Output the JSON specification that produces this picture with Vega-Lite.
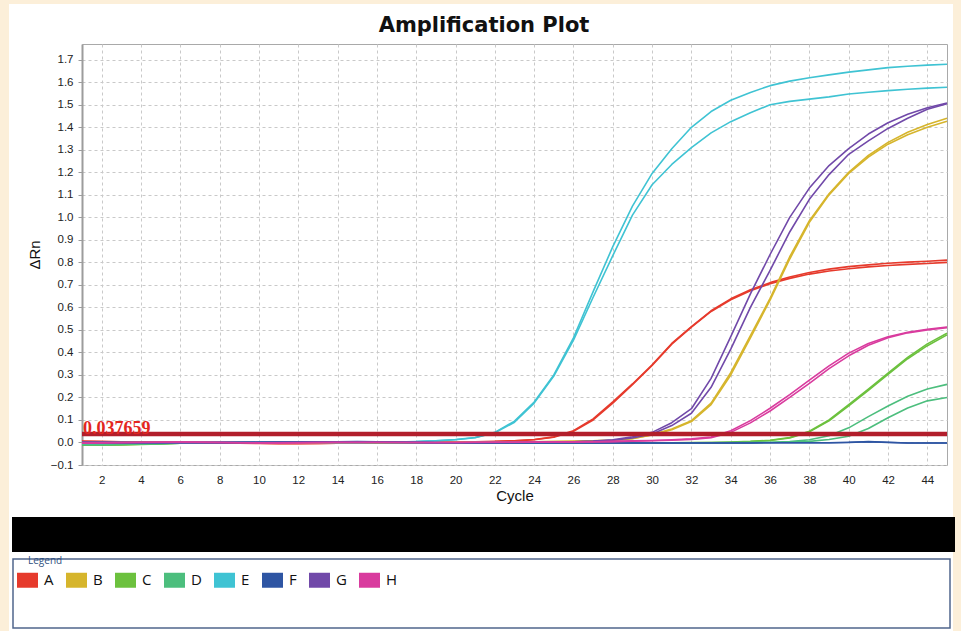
{
"$schema": "https://vega.github.io/schema/vega-lite/v6.json",
"width": 865, "height": 421,
"autosize": {"type": "none"},
"padding": {"left": 82, "top": 44, "right": 14, "bottom": 166},
"background": "#ffffff",
"datasets": {
"thr": [{"cycle": 1, "rn": 0.037659, "label": "0.037659"}],
"curves": [
{"sample":"A","rep":1,"cycle":1,"rn":0.004},{"sample":"A","rep":1,"cycle":2,"rn":0.003},{"sample":"A","rep":1,"cycle":3,"rn":0.002},{"sample":"A","rep":1,"cycle":4,"rn":0.001},{"sample":"A","rep":1,"cycle":5,"rn":0},{"sample":"A","rep":1,"cycle":6,"rn":0},{"sample":"A","rep":1,"cycle":7,"rn":-0.001},{"sample":"A","rep":1,"cycle":8,"rn":-0.002},{"sample":"A","rep":1,"cycle":9,"rn":-0.003},{"sample":"A","rep":1,"cycle":10,"rn":-0.004},{"sample":"A","rep":1,"cycle":11,"rn":-0.005},{"sample":"A","rep":1,"cycle":12,"rn":-0.005},{"sample":"A","rep":1,"cycle":13,"rn":-0.004},{"sample":"A","rep":1,"cycle":14,"rn":-0.003},{"sample":"A","rep":1,"cycle":15,"rn":-0.002},{"sample":"A","rep":1,"cycle":16,"rn":-0.002},{"sample":"A","rep":1,"cycle":17,"rn":-0.001},{"sample":"A","rep":1,"cycle":18,"rn":0},{"sample":"A","rep":1,"cycle":19,"rn":0.001},{"sample":"A","rep":1,"cycle":20,"rn":0.002},{"sample":"A","rep":1,"cycle":21,"rn":0.003},{"sample":"A","rep":1,"cycle":22,"rn":0.005},{"sample":"A","rep":1,"cycle":23,"rn":0.008},{"sample":"A","rep":1,"cycle":24,"rn":0.013},{"sample":"A","rep":1,"cycle":25,"rn":0.025},{"sample":"A","rep":1,"cycle":26,"rn":0.052},{"sample":"A","rep":1,"cycle":27,"rn":0.105},{"sample":"A","rep":1,"cycle":28,"rn":0.18},{"sample":"A","rep":1,"cycle":29,"rn":0.26},{"sample":"A","rep":1,"cycle":30,"rn":0.345},{"sample":"A","rep":1,"cycle":31,"rn":0.44},{"sample":"A","rep":1,"cycle":32,"rn":0.515},{"sample":"A","rep":1,"cycle":33,"rn":0.585},{"sample":"A","rep":1,"cycle":34,"rn":0.638},{"sample":"A","rep":1,"cycle":35,"rn":0.678},{"sample":"A","rep":1,"cycle":36,"rn":0.71},{"sample":"A","rep":1,"cycle":37,"rn":0.735},{"sample":"A","rep":1,"cycle":38,"rn":0.755},{"sample":"A","rep":1,"cycle":39,"rn":0.77},{"sample":"A","rep":1,"cycle":40,"rn":0.781},{"sample":"A","rep":1,"cycle":41,"rn":0.789},{"sample":"A","rep":1,"cycle":42,"rn":0.796},{"sample":"A","rep":1,"cycle":43,"rn":0.801},{"sample":"A","rep":1,"cycle":44,"rn":0.805},{"sample":"A","rep":1,"cycle":45,"rn":0.81},
{"sample":"A","rep":2,"cycle":1,"rn":0.006},{"sample":"A","rep":2,"cycle":2,"rn":0.005},{"sample":"A","rep":2,"cycle":3,"rn":0.003},{"sample":"A","rep":2,"cycle":4,"rn":0.002},{"sample":"A","rep":2,"cycle":5,"rn":0.001},{"sample":"A","rep":2,"cycle":6,"rn":0},{"sample":"A","rep":2,"cycle":7,"rn":-0.001},{"sample":"A","rep":2,"cycle":8,"rn":-0.002},{"sample":"A","rep":2,"cycle":9,"rn":-0.003},{"sample":"A","rep":2,"cycle":10,"rn":-0.003},{"sample":"A","rep":2,"cycle":11,"rn":-0.004},{"sample":"A","rep":2,"cycle":12,"rn":-0.004},{"sample":"A","rep":2,"cycle":13,"rn":-0.004},{"sample":"A","rep":2,"cycle":14,"rn":-0.003},{"sample":"A","rep":2,"cycle":15,"rn":-0.002},{"sample":"A","rep":2,"cycle":16,"rn":-0.001},{"sample":"A","rep":2,"cycle":17,"rn":0},{"sample":"A","rep":2,"cycle":18,"rn":0},{"sample":"A","rep":2,"cycle":19,"rn":0.001},{"sample":"A","rep":2,"cycle":20,"rn":0.002},{"sample":"A","rep":2,"cycle":21,"rn":0.003},{"sample":"A","rep":2,"cycle":22,"rn":0.004},{"sample":"A","rep":2,"cycle":23,"rn":0.007},{"sample":"A","rep":2,"cycle":24,"rn":0.012},{"sample":"A","rep":2,"cycle":25,"rn":0.023},{"sample":"A","rep":2,"cycle":26,"rn":0.05},{"sample":"A","rep":2,"cycle":27,"rn":0.1},{"sample":"A","rep":2,"cycle":28,"rn":0.175},{"sample":"A","rep":2,"cycle":29,"rn":0.257},{"sample":"A","rep":2,"cycle":30,"rn":0.342},{"sample":"A","rep":2,"cycle":31,"rn":0.437},{"sample":"A","rep":2,"cycle":32,"rn":0.512},{"sample":"A","rep":2,"cycle":33,"rn":0.582},{"sample":"A","rep":2,"cycle":34,"rn":0.634},{"sample":"A","rep":2,"cycle":35,"rn":0.674},{"sample":"A","rep":2,"cycle":36,"rn":0.705},{"sample":"A","rep":2,"cycle":37,"rn":0.729},{"sample":"A","rep":2,"cycle":38,"rn":0.748},{"sample":"A","rep":2,"cycle":39,"rn":0.762},{"sample":"A","rep":2,"cycle":40,"rn":0.772},{"sample":"A","rep":2,"cycle":41,"rn":0.78},{"sample":"A","rep":2,"cycle":42,"rn":0.786},{"sample":"A","rep":2,"cycle":43,"rn":0.791},{"sample":"A","rep":2,"cycle":44,"rn":0.795},{"sample":"A","rep":2,"cycle":45,"rn":0.8},
{"sample":"B","rep":1,"cycle":1,"rn":0},{"sample":"B","rep":1,"cycle":2,"rn":0.001},{"sample":"B","rep":1,"cycle":3,"rn":0.001},{"sample":"B","rep":1,"cycle":4,"rn":0.002},{"sample":"B","rep":1,"cycle":5,"rn":0.002},{"sample":"B","rep":1,"cycle":6,"rn":0.002},{"sample":"B","rep":1,"cycle":7,"rn":0.001},{"sample":"B","rep":1,"cycle":8,"rn":0.001},{"sample":"B","rep":1,"cycle":9,"rn":0},{"sample":"B","rep":1,"cycle":10,"rn":0},{"sample":"B","rep":1,"cycle":11,"rn":-0.001},{"sample":"B","rep":1,"cycle":12,"rn":-0.001},{"sample":"B","rep":1,"cycle":13,"rn":-0.001},{"sample":"B","rep":1,"cycle":14,"rn":0},{"sample":"B","rep":1,"cycle":15,"rn":0},{"sample":"B","rep":1,"cycle":16,"rn":0},{"sample":"B","rep":1,"cycle":17,"rn":0.001},{"sample":"B","rep":1,"cycle":18,"rn":0.001},{"sample":"B","rep":1,"cycle":19,"rn":0.001},{"sample":"B","rep":1,"cycle":20,"rn":0.002},{"sample":"B","rep":1,"cycle":21,"rn":0.002},{"sample":"B","rep":1,"cycle":22,"rn":0.002},{"sample":"B","rep":1,"cycle":23,"rn":0.003},{"sample":"B","rep":1,"cycle":24,"rn":0.003},{"sample":"B","rep":1,"cycle":25,"rn":0.004},{"sample":"B","rep":1,"cycle":26,"rn":0.005},{"sample":"B","rep":1,"cycle":27,"rn":0.007},{"sample":"B","rep":1,"cycle":28,"rn":0.01},{"sample":"B","rep":1,"cycle":29,"rn":0.018},{"sample":"B","rep":1,"cycle":30,"rn":0.035},{"sample":"B","rep":1,"cycle":31,"rn":0.06},{"sample":"B","rep":1,"cycle":32,"rn":0.097},{"sample":"B","rep":1,"cycle":33,"rn":0.175},{"sample":"B","rep":1,"cycle":34,"rn":0.31},{"sample":"B","rep":1,"cycle":35,"rn":0.475},{"sample":"B","rep":1,"cycle":36,"rn":0.64},{"sample":"B","rep":1,"cycle":37,"rn":0.825},{"sample":"B","rep":1,"cycle":38,"rn":0.985},{"sample":"B","rep":1,"cycle":39,"rn":1.105},{"sample":"B","rep":1,"cycle":40,"rn":1.2},{"sample":"B","rep":1,"cycle":41,"rn":1.275},{"sample":"B","rep":1,"cycle":42,"rn":1.333},{"sample":"B","rep":1,"cycle":43,"rn":1.378},{"sample":"B","rep":1,"cycle":44,"rn":1.412},{"sample":"B","rep":1,"cycle":45,"rn":1.44},
{"sample":"B","rep":2,"cycle":1,"rn":0.001},{"sample":"B","rep":2,"cycle":2,"rn":0.001},{"sample":"B","rep":2,"cycle":3,"rn":0.002},{"sample":"B","rep":2,"cycle":4,"rn":0.002},{"sample":"B","rep":2,"cycle":5,"rn":0.003},{"sample":"B","rep":2,"cycle":6,"rn":0.002},{"sample":"B","rep":2,"cycle":7,"rn":0.002},{"sample":"B","rep":2,"cycle":8,"rn":0.001},{"sample":"B","rep":2,"cycle":9,"rn":0},{"sample":"B","rep":2,"cycle":10,"rn":-0.001},{"sample":"B","rep":2,"cycle":11,"rn":-0.001},{"sample":"B","rep":2,"cycle":12,"rn":-0.002},{"sample":"B","rep":2,"cycle":13,"rn":-0.001},{"sample":"B","rep":2,"cycle":14,"rn":-0.001},{"sample":"B","rep":2,"cycle":15,"rn":0},{"sample":"B","rep":2,"cycle":16,"rn":0},{"sample":"B","rep":2,"cycle":17,"rn":0},{"sample":"B","rep":2,"cycle":18,"rn":0.001},{"sample":"B","rep":2,"cycle":19,"rn":0.001},{"sample":"B","rep":2,"cycle":20,"rn":0.001},{"sample":"B","rep":2,"cycle":21,"rn":0.002},{"sample":"B","rep":2,"cycle":22,"rn":0.002},{"sample":"B","rep":2,"cycle":23,"rn":0.002},{"sample":"B","rep":2,"cycle":24,"rn":0.003},{"sample":"B","rep":2,"cycle":25,"rn":0.004},{"sample":"B","rep":2,"cycle":26,"rn":0.005},{"sample":"B","rep":2,"cycle":27,"rn":0.007},{"sample":"B","rep":2,"cycle":28,"rn":0.01},{"sample":"B","rep":2,"cycle":29,"rn":0.017},{"sample":"B","rep":2,"cycle":30,"rn":0.033},{"sample":"B","rep":2,"cycle":31,"rn":0.057},{"sample":"B","rep":2,"cycle":32,"rn":0.093},{"sample":"B","rep":2,"cycle":33,"rn":0.168},{"sample":"B","rep":2,"cycle":34,"rn":0.3},{"sample":"B","rep":2,"cycle":35,"rn":0.465},{"sample":"B","rep":2,"cycle":36,"rn":0.632},{"sample":"B","rep":2,"cycle":37,"rn":0.815},{"sample":"B","rep":2,"cycle":38,"rn":0.978},{"sample":"B","rep":2,"cycle":39,"rn":1.1},{"sample":"B","rep":2,"cycle":40,"rn":1.195},{"sample":"B","rep":2,"cycle":41,"rn":1.268},{"sample":"B","rep":2,"cycle":42,"rn":1.325},{"sample":"B","rep":2,"cycle":43,"rn":1.367},{"sample":"B","rep":2,"cycle":44,"rn":1.4},{"sample":"B","rep":2,"cycle":45,"rn":1.427},
{"sample":"C","rep":1,"cycle":1,"rn":-0.012},{"sample":"C","rep":1,"cycle":2,"rn":-0.012},{"sample":"C","rep":1,"cycle":3,"rn":-0.011},{"sample":"C","rep":1,"cycle":4,"rn":-0.009},{"sample":"C","rep":1,"cycle":5,"rn":-0.006},{"sample":"C","rep":1,"cycle":6,"rn":-0.003},{"sample":"C","rep":1,"cycle":7,"rn":-0.001},{"sample":"C","rep":1,"cycle":8,"rn":0},{"sample":"C","rep":1,"cycle":9,"rn":0.001},{"sample":"C","rep":1,"cycle":10,"rn":0.002},{"sample":"C","rep":1,"cycle":11,"rn":0.002},{"sample":"C","rep":1,"cycle":12,"rn":0.002},{"sample":"C","rep":1,"cycle":13,"rn":0.001},{"sample":"C","rep":1,"cycle":14,"rn":0},{"sample":"C","rep":1,"cycle":15,"rn":0},{"sample":"C","rep":1,"cycle":16,"rn":-0.001},{"sample":"C","rep":1,"cycle":17,"rn":-0.001},{"sample":"C","rep":1,"cycle":18,"rn":-0.002},{"sample":"C","rep":1,"cycle":19,"rn":-0.002},{"sample":"C","rep":1,"cycle":20,"rn":-0.002},{"sample":"C","rep":1,"cycle":21,"rn":-0.002},{"sample":"C","rep":1,"cycle":22,"rn":-0.002},{"sample":"C","rep":1,"cycle":23,"rn":-0.002},{"sample":"C","rep":1,"cycle":24,"rn":-0.002},{"sample":"C","rep":1,"cycle":25,"rn":-0.002},{"sample":"C","rep":1,"cycle":26,"rn":-0.002},{"sample":"C","rep":1,"cycle":27,"rn":-0.002},{"sample":"C","rep":1,"cycle":28,"rn":-0.002},{"sample":"C","rep":1,"cycle":29,"rn":-0.002},{"sample":"C","rep":1,"cycle":30,"rn":-0.001},{"sample":"C","rep":1,"cycle":31,"rn":-0.001},{"sample":"C","rep":1,"cycle":32,"rn":0},{"sample":"C","rep":1,"cycle":33,"rn":0},{"sample":"C","rep":1,"cycle":34,"rn":0.002},{"sample":"C","rep":1,"cycle":35,"rn":0.005},{"sample":"C","rep":1,"cycle":36,"rn":0.01},{"sample":"C","rep":1,"cycle":37,"rn":0.022},{"sample":"C","rep":1,"cycle":38,"rn":0.05},{"sample":"C","rep":1,"cycle":39,"rn":0.1},{"sample":"C","rep":1,"cycle":40,"rn":0.168},{"sample":"C","rep":1,"cycle":41,"rn":0.237},{"sample":"C","rep":1,"cycle":42,"rn":0.308},{"sample":"C","rep":1,"cycle":43,"rn":0.378},{"sample":"C","rep":1,"cycle":44,"rn":0.438},{"sample":"C","rep":1,"cycle":45,"rn":0.485},
{"sample":"C","rep":2,"cycle":1,"rn":-0.011},{"sample":"C","rep":2,"cycle":2,"rn":-0.011},{"sample":"C","rep":2,"cycle":3,"rn":-0.01},{"sample":"C","rep":2,"cycle":4,"rn":-0.008},{"sample":"C","rep":2,"cycle":5,"rn":-0.005},{"sample":"C","rep":2,"cycle":6,"rn":-0.003},{"sample":"C","rep":2,"cycle":7,"rn":-0.001},{"sample":"C","rep":2,"cycle":8,"rn":0},{"sample":"C","rep":2,"cycle":9,"rn":0.001},{"sample":"C","rep":2,"cycle":10,"rn":0.001},{"sample":"C","rep":2,"cycle":11,"rn":0.002},{"sample":"C","rep":2,"cycle":12,"rn":0.002},{"sample":"C","rep":2,"cycle":13,"rn":0.001},{"sample":"C","rep":2,"cycle":14,"rn":0},{"sample":"C","rep":2,"cycle":15,"rn":0},{"sample":"C","rep":2,"cycle":16,"rn":-0.001},{"sample":"C","rep":2,"cycle":17,"rn":-0.001},{"sample":"C","rep":2,"cycle":18,"rn":-0.001},{"sample":"C","rep":2,"cycle":19,"rn":-0.002},{"sample":"C","rep":2,"cycle":20,"rn":-0.002},{"sample":"C","rep":2,"cycle":21,"rn":-0.002},{"sample":"C","rep":2,"cycle":22,"rn":-0.002},{"sample":"C","rep":2,"cycle":23,"rn":-0.002},{"sample":"C","rep":2,"cycle":24,"rn":-0.002},{"sample":"C","rep":2,"cycle":25,"rn":-0.002},{"sample":"C","rep":2,"cycle":26,"rn":-0.002},{"sample":"C","rep":2,"cycle":27,"rn":-0.002},{"sample":"C","rep":2,"cycle":28,"rn":-0.002},{"sample":"C","rep":2,"cycle":29,"rn":-0.002},{"sample":"C","rep":2,"cycle":30,"rn":-0.002},{"sample":"C","rep":2,"cycle":31,"rn":-0.001},{"sample":"C","rep":2,"cycle":32,"rn":-0.001},{"sample":"C","rep":2,"cycle":33,"rn":0},{"sample":"C","rep":2,"cycle":34,"rn":0.001},{"sample":"C","rep":2,"cycle":35,"rn":0.004},{"sample":"C","rep":2,"cycle":36,"rn":0.009},{"sample":"C","rep":2,"cycle":37,"rn":0.02},{"sample":"C","rep":2,"cycle":38,"rn":0.047},{"sample":"C","rep":2,"cycle":39,"rn":0.096},{"sample":"C","rep":2,"cycle":40,"rn":0.163},{"sample":"C","rep":2,"cycle":41,"rn":0.232},{"sample":"C","rep":2,"cycle":42,"rn":0.302},{"sample":"C","rep":2,"cycle":43,"rn":0.372},{"sample":"C","rep":2,"cycle":44,"rn":0.43},{"sample":"C","rep":2,"cycle":45,"rn":0.478},
{"sample":"D","rep":1,"cycle":1,"rn":-0.01},{"sample":"D","rep":1,"cycle":2,"rn":-0.01},{"sample":"D","rep":1,"cycle":3,"rn":-0.009},{"sample":"D","rep":1,"cycle":4,"rn":-0.007},{"sample":"D","rep":1,"cycle":5,"rn":-0.005},{"sample":"D","rep":1,"cycle":6,"rn":-0.003},{"sample":"D","rep":1,"cycle":7,"rn":-0.001},{"sample":"D","rep":1,"cycle":8,"rn":0},{"sample":"D","rep":1,"cycle":9,"rn":0.001},{"sample":"D","rep":1,"cycle":10,"rn":0.002},{"sample":"D","rep":1,"cycle":11,"rn":0.003},{"sample":"D","rep":1,"cycle":12,"rn":0.003},{"sample":"D","rep":1,"cycle":13,"rn":0.002},{"sample":"D","rep":1,"cycle":14,"rn":0.001},{"sample":"D","rep":1,"cycle":15,"rn":0},{"sample":"D","rep":1,"cycle":16,"rn":0},{"sample":"D","rep":1,"cycle":17,"rn":-0.001},{"sample":"D","rep":1,"cycle":18,"rn":-0.001},{"sample":"D","rep":1,"cycle":19,"rn":-0.002},{"sample":"D","rep":1,"cycle":20,"rn":-0.002},{"sample":"D","rep":1,"cycle":21,"rn":-0.002},{"sample":"D","rep":1,"cycle":22,"rn":-0.002},{"sample":"D","rep":1,"cycle":23,"rn":-0.002},{"sample":"D","rep":1,"cycle":24,"rn":-0.002},{"sample":"D","rep":1,"cycle":25,"rn":-0.002},{"sample":"D","rep":1,"cycle":26,"rn":-0.002},{"sample":"D","rep":1,"cycle":27,"rn":-0.002},{"sample":"D","rep":1,"cycle":28,"rn":-0.002},{"sample":"D","rep":1,"cycle":29,"rn":-0.002},{"sample":"D","rep":1,"cycle":30,"rn":-0.002},{"sample":"D","rep":1,"cycle":31,"rn":-0.002},{"sample":"D","rep":1,"cycle":32,"rn":-0.001},{"sample":"D","rep":1,"cycle":33,"rn":-0.001},{"sample":"D","rep":1,"cycle":34,"rn":0},{"sample":"D","rep":1,"cycle":35,"rn":0},{"sample":"D","rep":1,"cycle":36,"rn":0.001},{"sample":"D","rep":1,"cycle":37,"rn":0.004},{"sample":"D","rep":1,"cycle":38,"rn":0.012},{"sample":"D","rep":1,"cycle":39,"rn":0.03},{"sample":"D","rep":1,"cycle":40,"rn":0.065},{"sample":"D","rep":1,"cycle":41,"rn":0.115},{"sample":"D","rep":1,"cycle":42,"rn":0.162},{"sample":"D","rep":1,"cycle":43,"rn":0.205},{"sample":"D","rep":1,"cycle":44,"rn":0.238},{"sample":"D","rep":1,"cycle":45,"rn":0.258},
{"sample":"D","rep":2,"cycle":1,"rn":-0.009},{"sample":"D","rep":2,"cycle":2,"rn":-0.009},{"sample":"D","rep":2,"cycle":3,"rn":-0.008},{"sample":"D","rep":2,"cycle":4,"rn":-0.006},{"sample":"D","rep":2,"cycle":5,"rn":-0.004},{"sample":"D","rep":2,"cycle":6,"rn":-0.002},{"sample":"D","rep":2,"cycle":7,"rn":0},{"sample":"D","rep":2,"cycle":8,"rn":0.001},{"sample":"D","rep":2,"cycle":9,"rn":0.002},{"sample":"D","rep":2,"cycle":10,"rn":0.002},{"sample":"D","rep":2,"cycle":11,"rn":0.003},{"sample":"D","rep":2,"cycle":12,"rn":0.002},{"sample":"D","rep":2,"cycle":13,"rn":0.001},{"sample":"D","rep":2,"cycle":14,"rn":0},{"sample":"D","rep":2,"cycle":15,"rn":0},{"sample":"D","rep":2,"cycle":16,"rn":-0.001},{"sample":"D","rep":2,"cycle":17,"rn":-0.002},{"sample":"D","rep":2,"cycle":18,"rn":-0.002},{"sample":"D","rep":2,"cycle":19,"rn":-0.002},{"sample":"D","rep":2,"cycle":20,"rn":-0.002},{"sample":"D","rep":2,"cycle":21,"rn":-0.002},{"sample":"D","rep":2,"cycle":22,"rn":-0.002},{"sample":"D","rep":2,"cycle":23,"rn":-0.002},{"sample":"D","rep":2,"cycle":24,"rn":-0.002},{"sample":"D","rep":2,"cycle":25,"rn":-0.002},{"sample":"D","rep":2,"cycle":26,"rn":-0.002},{"sample":"D","rep":2,"cycle":27,"rn":-0.002},{"sample":"D","rep":2,"cycle":28,"rn":-0.002},{"sample":"D","rep":2,"cycle":29,"rn":-0.002},{"sample":"D","rep":2,"cycle":30,"rn":-0.002},{"sample":"D","rep":2,"cycle":31,"rn":-0.002},{"sample":"D","rep":2,"cycle":32,"rn":-0.002},{"sample":"D","rep":2,"cycle":33,"rn":-0.001},{"sample":"D","rep":2,"cycle":34,"rn":-0.001},{"sample":"D","rep":2,"cycle":35,"rn":0},{"sample":"D","rep":2,"cycle":36,"rn":0},{"sample":"D","rep":2,"cycle":37,"rn":0.002},{"sample":"D","rep":2,"cycle":38,"rn":0.005},{"sample":"D","rep":2,"cycle":39,"rn":0.013},{"sample":"D","rep":2,"cycle":40,"rn":0.028},{"sample":"D","rep":2,"cycle":41,"rn":0.062},{"sample":"D","rep":2,"cycle":42,"rn":0.11},{"sample":"D","rep":2,"cycle":43,"rn":0.153},{"sample":"D","rep":2,"cycle":44,"rn":0.185},{"sample":"D","rep":2,"cycle":45,"rn":0.2},
{"sample":"E","rep":1,"cycle":1,"rn":-0.004},{"sample":"E","rep":1,"cycle":2,"rn":-0.004},{"sample":"E","rep":1,"cycle":3,"rn":-0.003},{"sample":"E","rep":1,"cycle":4,"rn":-0.002},{"sample":"E","rep":1,"cycle":5,"rn":-0.001},{"sample":"E","rep":1,"cycle":6,"rn":0},{"sample":"E","rep":1,"cycle":7,"rn":0},{"sample":"E","rep":1,"cycle":8,"rn":0.001},{"sample":"E","rep":1,"cycle":9,"rn":0.001},{"sample":"E","rep":1,"cycle":10,"rn":0.002},{"sample":"E","rep":1,"cycle":11,"rn":0.002},{"sample":"E","rep":1,"cycle":12,"rn":0.001},{"sample":"E","rep":1,"cycle":13,"rn":0.001},{"sample":"E","rep":1,"cycle":14,"rn":0},{"sample":"E","rep":1,"cycle":15,"rn":0},{"sample":"E","rep":1,"cycle":16,"rn":0.001},{"sample":"E","rep":1,"cycle":17,"rn":0.002},{"sample":"E","rep":1,"cycle":18,"rn":0.004},{"sample":"E","rep":1,"cycle":19,"rn":0.008},{"sample":"E","rep":1,"cycle":20,"rn":0.013},{"sample":"E","rep":1,"cycle":21,"rn":0.022},{"sample":"E","rep":1,"cycle":22,"rn":0.045},{"sample":"E","rep":1,"cycle":23,"rn":0.095},{"sample":"E","rep":1,"cycle":24,"rn":0.18},{"sample":"E","rep":1,"cycle":25,"rn":0.3},{"sample":"E","rep":1,"cycle":26,"rn":0.465},{"sample":"E","rep":1,"cycle":27,"rn":0.67},{"sample":"E","rep":1,"cycle":28,"rn":0.87},{"sample":"E","rep":1,"cycle":29,"rn":1.05},{"sample":"E","rep":1,"cycle":30,"rn":1.195},{"sample":"E","rep":1,"cycle":31,"rn":1.305},{"sample":"E","rep":1,"cycle":32,"rn":1.4},{"sample":"E","rep":1,"cycle":33,"rn":1.47},{"sample":"E","rep":1,"cycle":34,"rn":1.52},{"sample":"E","rep":1,"cycle":35,"rn":1.555},{"sample":"E","rep":1,"cycle":36,"rn":1.585},{"sample":"E","rep":1,"cycle":37,"rn":1.605},{"sample":"E","rep":1,"cycle":38,"rn":1.62},{"sample":"E","rep":1,"cycle":39,"rn":1.633},{"sample":"E","rep":1,"cycle":40,"rn":1.645},{"sample":"E","rep":1,"cycle":41,"rn":1.655},{"sample":"E","rep":1,"cycle":42,"rn":1.665},{"sample":"E","rep":1,"cycle":43,"rn":1.671},{"sample":"E","rep":1,"cycle":44,"rn":1.676},{"sample":"E","rep":1,"cycle":45,"rn":1.68},
{"sample":"E","rep":2,"cycle":1,"rn":-0.002},{"sample":"E","rep":2,"cycle":2,"rn":-0.002},{"sample":"E","rep":2,"cycle":3,"rn":-0.002},{"sample":"E","rep":2,"cycle":4,"rn":-0.001},{"sample":"E","rep":2,"cycle":5,"rn":0},{"sample":"E","rep":2,"cycle":6,"rn":0},{"sample":"E","rep":2,"cycle":7,"rn":0.001},{"sample":"E","rep":2,"cycle":8,"rn":0.001},{"sample":"E","rep":2,"cycle":9,"rn":0.002},{"sample":"E","rep":2,"cycle":10,"rn":0.002},{"sample":"E","rep":2,"cycle":11,"rn":0.001},{"sample":"E","rep":2,"cycle":12,"rn":0.001},{"sample":"E","rep":2,"cycle":13,"rn":0},{"sample":"E","rep":2,"cycle":14,"rn":0},{"sample":"E","rep":2,"cycle":15,"rn":0},{"sample":"E","rep":2,"cycle":16,"rn":0.001},{"sample":"E","rep":2,"cycle":17,"rn":0.002},{"sample":"E","rep":2,"cycle":18,"rn":0.004},{"sample":"E","rep":2,"cycle":19,"rn":0.007},{"sample":"E","rep":2,"cycle":20,"rn":0.012},{"sample":"E","rep":2,"cycle":21,"rn":0.021},{"sample":"E","rep":2,"cycle":22,"rn":0.043},{"sample":"E","rep":2,"cycle":23,"rn":0.09},{"sample":"E","rep":2,"cycle":24,"rn":0.175},{"sample":"E","rep":2,"cycle":25,"rn":0.295},{"sample":"E","rep":2,"cycle":26,"rn":0.455},{"sample":"E","rep":2,"cycle":27,"rn":0.645},{"sample":"E","rep":2,"cycle":28,"rn":0.83},{"sample":"E","rep":2,"cycle":29,"rn":1.01},{"sample":"E","rep":2,"cycle":30,"rn":1.145},{"sample":"E","rep":2,"cycle":31,"rn":1.235},{"sample":"E","rep":2,"cycle":32,"rn":1.31},{"sample":"E","rep":2,"cycle":33,"rn":1.375},{"sample":"E","rep":2,"cycle":34,"rn":1.425},{"sample":"E","rep":2,"cycle":35,"rn":1.465},{"sample":"E","rep":2,"cycle":36,"rn":1.5},{"sample":"E","rep":2,"cycle":37,"rn":1.515},{"sample":"E","rep":2,"cycle":38,"rn":1.525},{"sample":"E","rep":2,"cycle":39,"rn":1.535},{"sample":"E","rep":2,"cycle":40,"rn":1.548},{"sample":"E","rep":2,"cycle":41,"rn":1.556},{"sample":"E","rep":2,"cycle":42,"rn":1.563},{"sample":"E","rep":2,"cycle":43,"rn":1.569},{"sample":"E","rep":2,"cycle":44,"rn":1.574},{"sample":"E","rep":2,"cycle":45,"rn":1.578},
{"sample":"F","rep":1,"cycle":1,"rn":-0.003},{"sample":"F","rep":1,"cycle":2,"rn":-0.003},{"sample":"F","rep":1,"cycle":3,"rn":-0.002},{"sample":"F","rep":1,"cycle":4,"rn":-0.002},{"sample":"F","rep":1,"cycle":5,"rn":-0.001},{"sample":"F","rep":1,"cycle":6,"rn":-0.001},{"sample":"F","rep":1,"cycle":7,"rn":0},{"sample":"F","rep":1,"cycle":8,"rn":0},{"sample":"F","rep":1,"cycle":9,"rn":0.001},{"sample":"F","rep":1,"cycle":10,"rn":0.001},{"sample":"F","rep":1,"cycle":11,"rn":0.001},{"sample":"F","rep":1,"cycle":12,"rn":0.001},{"sample":"F","rep":1,"cycle":13,"rn":0.002},{"sample":"F","rep":1,"cycle":14,"rn":0.003},{"sample":"F","rep":1,"cycle":15,"rn":0.004},{"sample":"F","rep":1,"cycle":16,"rn":0.003},{"sample":"F","rep":1,"cycle":17,"rn":0.002},{"sample":"F","rep":1,"cycle":18,"rn":0.001},{"sample":"F","rep":1,"cycle":19,"rn":0},{"sample":"F","rep":1,"cycle":20,"rn":-0.001},{"sample":"F","rep":1,"cycle":21,"rn":-0.001},{"sample":"F","rep":1,"cycle":22,"rn":-0.002},{"sample":"F","rep":1,"cycle":23,"rn":-0.002},{"sample":"F","rep":1,"cycle":24,"rn":-0.002},{"sample":"F","rep":1,"cycle":25,"rn":-0.002},{"sample":"F","rep":1,"cycle":26,"rn":-0.002},{"sample":"F","rep":1,"cycle":27,"rn":-0.002},{"sample":"F","rep":1,"cycle":28,"rn":-0.002},{"sample":"F","rep":1,"cycle":29,"rn":-0.002},{"sample":"F","rep":1,"cycle":30,"rn":-0.002},{"sample":"F","rep":1,"cycle":31,"rn":-0.002},{"sample":"F","rep":1,"cycle":32,"rn":-0.002},{"sample":"F","rep":1,"cycle":33,"rn":-0.002},{"sample":"F","rep":1,"cycle":34,"rn":-0.002},{"sample":"F","rep":1,"cycle":35,"rn":-0.002},{"sample":"F","rep":1,"cycle":36,"rn":-0.001},{"sample":"F","rep":1,"cycle":37,"rn":-0.001},{"sample":"F","rep":1,"cycle":38,"rn":-0.001},{"sample":"F","rep":1,"cycle":39,"rn":-0.001},{"sample":"F","rep":1,"cycle":40,"rn":0},{"sample":"F","rep":1,"cycle":41,"rn":0.004},{"sample":"F","rep":1,"cycle":42,"rn":0.001},{"sample":"F","rep":1,"cycle":43,"rn":-0.002},{"sample":"F","rep":1,"cycle":44,"rn":-0.002},{"sample":"F","rep":1,"cycle":45,"rn":-0.002},
{"sample":"F","rep":2,"cycle":1,"rn":-0.002},{"sample":"F","rep":2,"cycle":2,"rn":-0.002},{"sample":"F","rep":2,"cycle":3,"rn":-0.002},{"sample":"F","rep":2,"cycle":4,"rn":-0.001},{"sample":"F","rep":2,"cycle":5,"rn":-0.001},{"sample":"F","rep":2,"cycle":6,"rn":0},{"sample":"F","rep":2,"cycle":7,"rn":0},{"sample":"F","rep":2,"cycle":8,"rn":0.001},{"sample":"F","rep":2,"cycle":9,"rn":0.001},{"sample":"F","rep":2,"cycle":10,"rn":0.001},{"sample":"F","rep":2,"cycle":11,"rn":0.002},{"sample":"F","rep":2,"cycle":12,"rn":0.002},{"sample":"F","rep":2,"cycle":13,"rn":0.002},{"sample":"F","rep":2,"cycle":14,"rn":0.003},{"sample":"F","rep":2,"cycle":15,"rn":0.003},{"sample":"F","rep":2,"cycle":16,"rn":0.002},{"sample":"F","rep":2,"cycle":17,"rn":0.001},{"sample":"F","rep":2,"cycle":18,"rn":0},{"sample":"F","rep":2,"cycle":19,"rn":-0.001},{"sample":"F","rep":2,"cycle":20,"rn":-0.001},{"sample":"F","rep":2,"cycle":21,"rn":-0.002},{"sample":"F","rep":2,"cycle":22,"rn":-0.002},{"sample":"F","rep":2,"cycle":23,"rn":-0.002},{"sample":"F","rep":2,"cycle":24,"rn":-0.002},{"sample":"F","rep":2,"cycle":25,"rn":-0.002},{"sample":"F","rep":2,"cycle":26,"rn":-0.002},{"sample":"F","rep":2,"cycle":27,"rn":-0.002},{"sample":"F","rep":2,"cycle":28,"rn":-0.002},{"sample":"F","rep":2,"cycle":29,"rn":-0.002},{"sample":"F","rep":2,"cycle":30,"rn":-0.002},{"sample":"F","rep":2,"cycle":31,"rn":-0.002},{"sample":"F","rep":2,"cycle":32,"rn":-0.002},{"sample":"F","rep":2,"cycle":33,"rn":-0.002},{"sample":"F","rep":2,"cycle":34,"rn":-0.002},{"sample":"F","rep":2,"cycle":35,"rn":-0.002},{"sample":"F","rep":2,"cycle":36,"rn":-0.001},{"sample":"F","rep":2,"cycle":37,"rn":-0.001},{"sample":"F","rep":2,"cycle":38,"rn":-0.001},{"sample":"F","rep":2,"cycle":39,"rn":-0.001},{"sample":"F","rep":2,"cycle":40,"rn":0.001},{"sample":"F","rep":2,"cycle":41,"rn":0.003},{"sample":"F","rep":2,"cycle":42,"rn":0},{"sample":"F","rep":2,"cycle":43,"rn":-0.002},{"sample":"F","rep":2,"cycle":44,"rn":-0.002},{"sample":"F","rep":2,"cycle":45,"rn":-0.002},
{"sample":"G","rep":1,"cycle":1,"rn":0.002},{"sample":"G","rep":1,"cycle":2,"rn":0.002},{"sample":"G","rep":1,"cycle":3,"rn":0.001},{"sample":"G","rep":1,"cycle":4,"rn":0.001},{"sample":"G","rep":1,"cycle":5,"rn":0},{"sample":"G","rep":1,"cycle":6,"rn":0},{"sample":"G","rep":1,"cycle":7,"rn":-0.001},{"sample":"G","rep":1,"cycle":8,"rn":-0.001},{"sample":"G","rep":1,"cycle":9,"rn":-0.001},{"sample":"G","rep":1,"cycle":10,"rn":0},{"sample":"G","rep":1,"cycle":11,"rn":0},{"sample":"G","rep":1,"cycle":12,"rn":0.001},{"sample":"G","rep":1,"cycle":13,"rn":0.002},{"sample":"G","rep":1,"cycle":14,"rn":0.003},{"sample":"G","rep":1,"cycle":15,"rn":0.003},{"sample":"G","rep":1,"cycle":16,"rn":0.002},{"sample":"G","rep":1,"cycle":17,"rn":0.001},{"sample":"G","rep":1,"cycle":18,"rn":0},{"sample":"G","rep":1,"cycle":19,"rn":-0.001},{"sample":"G","rep":1,"cycle":20,"rn":-0.001},{"sample":"G","rep":1,"cycle":21,"rn":-0.001},{"sample":"G","rep":1,"cycle":22,"rn":0},{"sample":"G","rep":1,"cycle":23,"rn":0},{"sample":"G","rep":1,"cycle":24,"rn":0.001},{"sample":"G","rep":1,"cycle":25,"rn":0.002},{"sample":"G","rep":1,"cycle":26,"rn":0.003},{"sample":"G","rep":1,"cycle":27,"rn":0.006},{"sample":"G","rep":1,"cycle":28,"rn":0.012},{"sample":"G","rep":1,"cycle":29,"rn":0.025},{"sample":"G","rep":1,"cycle":30,"rn":0.045},{"sample":"G","rep":1,"cycle":31,"rn":0.088},{"sample":"G","rep":1,"cycle":32,"rn":0.15},{"sample":"G","rep":1,"cycle":33,"rn":0.285},{"sample":"G","rep":1,"cycle":34,"rn":0.47},{"sample":"G","rep":1,"cycle":35,"rn":0.66},{"sample":"G","rep":1,"cycle":36,"rn":0.835},{"sample":"G","rep":1,"cycle":37,"rn":1.0},{"sample":"G","rep":1,"cycle":38,"rn":1.13},{"sample":"G","rep":1,"cycle":39,"rn":1.23},{"sample":"G","rep":1,"cycle":40,"rn":1.305},{"sample":"G","rep":1,"cycle":41,"rn":1.37},{"sample":"G","rep":1,"cycle":42,"rn":1.42},{"sample":"G","rep":1,"cycle":43,"rn":1.458},{"sample":"G","rep":1,"cycle":44,"rn":1.487},{"sample":"G","rep":1,"cycle":45,"rn":1.508},
{"sample":"G","rep":2,"cycle":1,"rn":0.001},{"sample":"G","rep":2,"cycle":2,"rn":0.001},{"sample":"G","rep":2,"cycle":3,"rn":0.001},{"sample":"G","rep":2,"cycle":4,"rn":0},{"sample":"G","rep":2,"cycle":5,"rn":0},{"sample":"G","rep":2,"cycle":6,"rn":-0.001},{"sample":"G","rep":2,"cycle":7,"rn":-0.001},{"sample":"G","rep":2,"cycle":8,"rn":-0.002},{"sample":"G","rep":2,"cycle":9,"rn":-0.001},{"sample":"G","rep":2,"cycle":10,"rn":-0.001},{"sample":"G","rep":2,"cycle":11,"rn":0},{"sample":"G","rep":2,"cycle":12,"rn":0.001},{"sample":"G","rep":2,"cycle":13,"rn":0.002},{"sample":"G","rep":2,"cycle":14,"rn":0.002},{"sample":"G","rep":2,"cycle":15,"rn":0.002},{"sample":"G","rep":2,"cycle":16,"rn":0.001},{"sample":"G","rep":2,"cycle":17,"rn":0},{"sample":"G","rep":2,"cycle":18,"rn":0},{"sample":"G","rep":2,"cycle":19,"rn":-0.001},{"sample":"G","rep":2,"cycle":20,"rn":-0.001},{"sample":"G","rep":2,"cycle":21,"rn":0},{"sample":"G","rep":2,"cycle":22,"rn":0},{"sample":"G","rep":2,"cycle":23,"rn":0.001},{"sample":"G","rep":2,"cycle":24,"rn":0.001},{"sample":"G","rep":2,"cycle":25,"rn":0.002},{"sample":"G","rep":2,"cycle":26,"rn":0.003},{"sample":"G","rep":2,"cycle":27,"rn":0.005},{"sample":"G","rep":2,"cycle":28,"rn":0.01},{"sample":"G","rep":2,"cycle":29,"rn":0.02},{"sample":"G","rep":2,"cycle":30,"rn":0.038},{"sample":"G","rep":2,"cycle":31,"rn":0.075},{"sample":"G","rep":2,"cycle":32,"rn":0.13},{"sample":"G","rep":2,"cycle":33,"rn":0.245},{"sample":"G","rep":2,"cycle":34,"rn":0.415},{"sample":"G","rep":2,"cycle":35,"rn":0.6},{"sample":"G","rep":2,"cycle":36,"rn":0.765},{"sample":"G","rep":2,"cycle":37,"rn":0.935},{"sample":"G","rep":2,"cycle":38,"rn":1.08},{"sample":"G","rep":2,"cycle":39,"rn":1.19},{"sample":"G","rep":2,"cycle":40,"rn":1.28},{"sample":"G","rep":2,"cycle":41,"rn":1.34},{"sample":"G","rep":2,"cycle":42,"rn":1.395},{"sample":"G","rep":2,"cycle":43,"rn":1.44},{"sample":"G","rep":2,"cycle":44,"rn":1.48},{"sample":"G","rep":2,"cycle":45,"rn":1.505},
{"sample":"H","rep":1,"cycle":1,"rn":-0.003},{"sample":"H","rep":1,"cycle":2,"rn":-0.002},{"sample":"H","rep":1,"cycle":3,"rn":-0.001},{"sample":"H","rep":1,"cycle":4,"rn":0},{"sample":"H","rep":1,"cycle":5,"rn":0.001},{"sample":"H","rep":1,"cycle":6,"rn":0.002},{"sample":"H","rep":1,"cycle":7,"rn":0.002},{"sample":"H","rep":1,"cycle":8,"rn":0.001},{"sample":"H","rep":1,"cycle":9,"rn":0},{"sample":"H","rep":1,"cycle":10,"rn":-0.001},{"sample":"H","rep":1,"cycle":11,"rn":-0.002},{"sample":"H","rep":1,"cycle":12,"rn":-0.002},{"sample":"H","rep":1,"cycle":13,"rn":-0.001},{"sample":"H","rep":1,"cycle":14,"rn":0},{"sample":"H","rep":1,"cycle":15,"rn":0},{"sample":"H","rep":1,"cycle":16,"rn":0},{"sample":"H","rep":1,"cycle":17,"rn":0},{"sample":"H","rep":1,"cycle":18,"rn":0},{"sample":"H","rep":1,"cycle":19,"rn":0},{"sample":"H","rep":1,"cycle":20,"rn":0.001},{"sample":"H","rep":1,"cycle":21,"rn":0.001},{"sample":"H","rep":1,"cycle":22,"rn":0.001},{"sample":"H","rep":1,"cycle":23,"rn":0.001},{"sample":"H","rep":1,"cycle":24,"rn":0.002},{"sample":"H","rep":1,"cycle":25,"rn":0.002},{"sample":"H","rep":1,"cycle":26,"rn":0.002},{"sample":"H","rep":1,"cycle":27,"rn":0.003},{"sample":"H","rep":1,"cycle":28,"rn":0.005},{"sample":"H","rep":1,"cycle":29,"rn":0.007},{"sample":"H","rep":1,"cycle":30,"rn":0.009},{"sample":"H","rep":1,"cycle":31,"rn":0.012},{"sample":"H","rep":1,"cycle":32,"rn":0.016},{"sample":"H","rep":1,"cycle":33,"rn":0.024},{"sample":"H","rep":1,"cycle":34,"rn":0.052},{"sample":"H","rep":1,"cycle":35,"rn":0.097},{"sample":"H","rep":1,"cycle":36,"rn":0.152},{"sample":"H","rep":1,"cycle":37,"rn":0.213},{"sample":"H","rep":1,"cycle":38,"rn":0.277},{"sample":"H","rep":1,"cycle":39,"rn":0.34},{"sample":"H","rep":1,"cycle":40,"rn":0.397},{"sample":"H","rep":1,"cycle":41,"rn":0.44},{"sample":"H","rep":1,"cycle":42,"rn":0.47},{"sample":"H","rep":1,"cycle":43,"rn":0.49},{"sample":"H","rep":1,"cycle":44,"rn":0.503},{"sample":"H","rep":1,"cycle":45,"rn":0.513},
{"sample":"H","rep":2,"cycle":1,"rn":-0.002},{"sample":"H","rep":2,"cycle":2,"rn":-0.001},{"sample":"H","rep":2,"cycle":3,"rn":0},{"sample":"H","rep":2,"cycle":4,"rn":0.001},{"sample":"H","rep":2,"cycle":5,"rn":0.002},{"sample":"H","rep":2,"cycle":6,"rn":0.002},{"sample":"H","rep":2,"cycle":7,"rn":0.001},{"sample":"H","rep":2,"cycle":8,"rn":0},{"sample":"H","rep":2,"cycle":9,"rn":-0.001},{"sample":"H","rep":2,"cycle":10,"rn":-0.002},{"sample":"H","rep":2,"cycle":11,"rn":-0.002},{"sample":"H","rep":2,"cycle":12,"rn":-0.001},{"sample":"H","rep":2,"cycle":13,"rn":0},{"sample":"H","rep":2,"cycle":14,"rn":0},{"sample":"H","rep":2,"cycle":15,"rn":0},{"sample":"H","rep":2,"cycle":16,"rn":0},{"sample":"H","rep":2,"cycle":17,"rn":0},{"sample":"H","rep":2,"cycle":18,"rn":0},{"sample":"H","rep":2,"cycle":19,"rn":0},{"sample":"H","rep":2,"cycle":20,"rn":0},{"sample":"H","rep":2,"cycle":21,"rn":0.001},{"sample":"H","rep":2,"cycle":22,"rn":0.001},{"sample":"H","rep":2,"cycle":23,"rn":0.001},{"sample":"H","rep":2,"cycle":24,"rn":0.001},{"sample":"H","rep":2,"cycle":25,"rn":0.002},{"sample":"H","rep":2,"cycle":26,"rn":0.002},{"sample":"H","rep":2,"cycle":27,"rn":0.002},{"sample":"H","rep":2,"cycle":28,"rn":0.004},{"sample":"H","rep":2,"cycle":29,"rn":0.006},{"sample":"H","rep":2,"cycle":30,"rn":0.008},{"sample":"H","rep":2,"cycle":31,"rn":0.01},{"sample":"H","rep":2,"cycle":32,"rn":0.014},{"sample":"H","rep":2,"cycle":33,"rn":0.021},{"sample":"H","rep":2,"cycle":34,"rn":0.045},{"sample":"H","rep":2,"cycle":35,"rn":0.087},{"sample":"H","rep":2,"cycle":36,"rn":0.14},{"sample":"H","rep":2,"cycle":37,"rn":0.2},{"sample":"H","rep":2,"cycle":38,"rn":0.263},{"sample":"H","rep":2,"cycle":39,"rn":0.328},{"sample":"H","rep":2,"cycle":40,"rn":0.385},{"sample":"H","rep":2,"cycle":41,"rn":0.432},{"sample":"H","rep":2,"cycle":42,"rn":0.465},{"sample":"H","rep":2,"cycle":43,"rn":0.487},{"sample":"H","rep":2,"cycle":44,"rn":0.5},{"sample":"H","rep":2,"cycle":45,"rn":0.51}
]},
"layer": [
{"data": {"name": "thr"},
 "mark": {"type": "text", "text": ""},
 "encoding": {"color": {"field": "rn", "type": "quantitative", "scale": {"domain": [0, 1], "range": ["#ffffff", "#ffffff"]},
   "legend": {"orient": "none", "legendX": -69, "legendY": 512, "direction": "horizontal", "gradientLength": 937, "gradientThickness": 69, "gradientStrokeColor": "#50668c", "gradientStrokeWidth": 1.5, "title": "Legend", "titleFont": "Open Sans", "titleFontSize": 10, "titleFontWeight": "normal", "titleColor": "#2f5080", "titlePadding": -7, "titleAnchor": "start", "labelExpr": "''", "padding": 0,
     "encode": {"title": {"update": {"dx": {"value": 15}}}}}}}},
{"data": {"name": "thr"},
 "mark": {"type": "text", "text": ""},
 "encoding": {
   "fill": {"field": "rn", "type": "quantitative", "scale": {"domain": [0, 2], "range": ["#000000", "#000000"]},
     "legend": {"orient": "none", "legendX": -70, "legendY": 473, "direction": "horizontal", "gradientLength": 943, "gradientThickness": 35, "gradientStrokeWidth": 0, "title": null, "labelExpr": "''", "padding": 0}},
   "size": {"field": "rn", "type": "quantitative", "scale": {"domain": [0, 3], "range": [925444, 925444]},
     "legend": {"orient": "none", "legendX": -91, "legendY": -29, "values": [1], "title": "Amplification Plot", "titleFont": "DejaVu Sans", "titleFontSize": 21, "titleFontWeight": "bold", "titleColor": "#111111", "titleAnchor": "middle", "titleLimit": 600, "titlePadding": -50, "labelExpr": "''", "symbolType": "M-1,-1H1V0.341H-1Z", "symbolFillColor": "transparent", "symbolStrokeColor": "#fcefd9", "symbolStrokeWidth": 18, "symbolOpacity": 1, "padding": 0,
       "encode": {"title": {"update": {"dx": {"value": -11}}}, "symbols": {"update": {"fill": {"value": "transparent"}, "stroke": {"value": "#fcefd9"}, "strokeWidth": {"value": 18}, "opacity": {"value": 1}}}}}}
 }},
{"data": {"name": "curves"},
 "mark": {"type": "line", "strokeWidth": 1.6, "strokeJoin": "round"},
 "encoding": {
  "x": {"field": "cycle", "type": "quantitative", "scale": {"domain": [1, 45], "nice": false, "zero": false},
        "axis": {"values": [2,4,6,8,10,12,14,16,18,20,22,24,26,28,30,32,34,36,38,40,42,44], "tickCount": 30, "title": "Cycle", "grid": true, "gridDash": [3,3], "gridColor": "#c9c9c9", "domain": false, "ticks": false, "labelPadding": 9, "labelFlush": false, "labelOverlap": false, "labelFont": "Liberation Sans", "labelFontSize": 11.5, "labelColor": "#222222", "titleFont": "Liberation Sans", "titleFontSize": 15, "titleFontWeight": "normal", "titleColor": "#111111", "titlePadding": 3}},
  "y": {"field": "rn", "type": "quantitative", "scale": {"domain": [-0.1, 1.77], "nice": false, "zero": false},
        "axis": {"values": [-0.1,0,0.1,0.2,0.3,0.4,0.5,0.6,0.7,0.8,0.9,1.0,1.1,1.2,1.3,1.4,1.5,1.6,1.7], "tickCount": 30, "format": ".1f", "title": "ΔRn", "grid": true, "gridDash": [3,3], "gridColor": "#c9c9c9", "domain": true, "domainColor": "#9c9c9c", "domainWidth": 2, "ticks": true, "tickColor": "#9c9c9c", "tickSize": 4, "labelPadding": 5, "labelOverlap": false, "labelFont": "Liberation Sans", "labelFontSize": 11.5, "labelColor": "#222222", "titleFont": "Liberation Sans", "titleFontSize": 15, "titleFontWeight": "normal", "titleColor": "#111111", "titlePadding": 8}},
  "stroke": {"field": "sample", "type": "nominal",
        "scale": {"domain": ["A","B","C","D","E","F","G","H"], "range": ["#e63a2c","#d6b52c","#6cc13e","#4cbe7d","#3fc3d3","#2e55a3","#7149a9","#d93b9e"]},
        "legend": {"orient": "none", "legendX": -65, "legendY": 525.5, "direction": "horizontal", "title": null, "symbolType": "M-1,-0.714H1V0.714H-1Z", "symbolSize": 441, "symbolStrokeWidth": 0, "symbolOpacity": 1, "labelFont": "Open Sans", "labelFontSize": 15, "labelColor": "#111111", "labelOffset": 6, "columnPadding": 12, "padding": 0,
          "encode": {"symbols": {"update": {"fill": {"scale": "stroke", "field": "value"}, "strokeWidth": {"value": 0}, "opacity": {"value": 1}}}}}},
  "detail": {"field": "rep", "type": "nominal"}
 }},
{"data": {"name": "thr"},
 "mark": {"type": "rule", "color": "#b21e2b", "strokeWidth": 4.5},
 "encoding": {"y": {"field": "rn", "type": "quantitative"}}},
{"data": {"name": "thr"},
 "mark": {"type": "text", "align": "left", "baseline": "alphabetic", "dx": 1, "font": "Liberation Serif", "fontSize": 18, "fontWeight": "bold", "color": "#e3261e"},
 "encoding": {"x": {"field": "cycle", "type": "quantitative"}, "y": {"field": "rn", "type": "quantitative"}, "text": {"field": "label", "type": "nominal"}}}
],
"config": {"view": {"stroke": "#a9a9a9", "strokeWidth": 1, "fill": "#ffffff"}, "axis": {"labelOverlap": false}}
}
